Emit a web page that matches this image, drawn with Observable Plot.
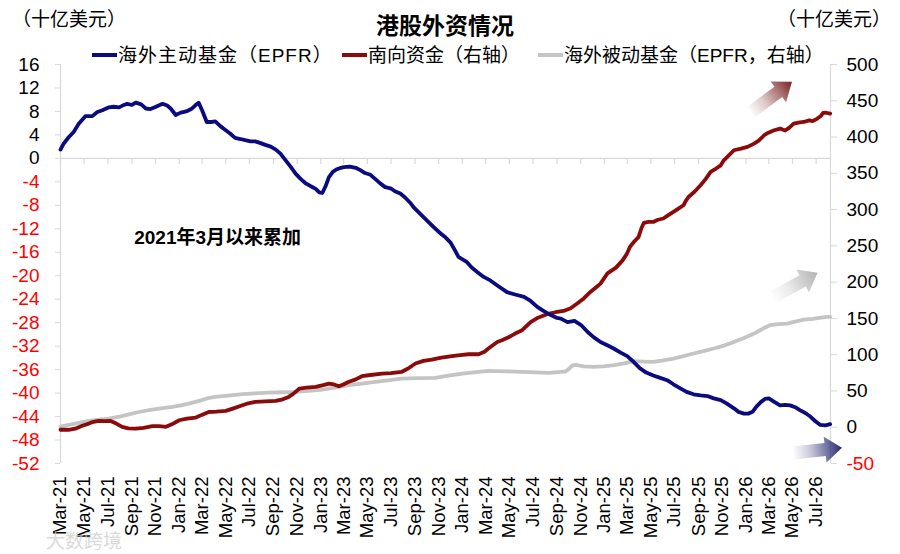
<!DOCTYPE html>
<html><head><meta charset="utf-8">
<script src="https://cdn.jsdelivr.net/npm/d3@7"></script>
<script src="https://cdn.jsdelivr.net/npm/@observablehq/plot@0.6"></script>
<style>
body{margin:0;background:#fff;font-family:"Liberation Sans",Arial,"Noto Sans CJK SC",sans-serif;color:#000}
#wrap{position:relative;width:900px;height:554px;overflow:hidden;background:#fff}
.hd{position:absolute;white-space:nowrap;line-height:1}
.sw{display:inline-block;width:25px;height:3.5px;vertical-align:middle;margin-right:1px;position:relative;top:-1px}
#chart{position:absolute;left:0;top:40px}
</style></head><body><div id="wrap"><div id="chart"></div></div>
<script>
// ---------- data ----------
const titleText = "港股外资情况";
const unitText = "（十亿美元）";
const noteText = "2021年3月以来累加";
const watermarkText = "大数跨境";
const seriesNames = ["海外主动基金（EPFR）", "南向资金（右轴）", "海外被动基金（EPFR，右轴）"];
const seriesColors = ["#0b0b80", "#8b0a0a", "#c4c4c4"];
const leftTicks = [16,12,8,4,0,-4,-8,-12,-16,-20,-24,-28,-32,-36,-40,-44,-48,-52];
const rightTicks = [500,450,400,350,300,250,200,150,100,50,0,-50];

// 海外主动基金 (left axis, 十亿美元)
const activeFund = [
["2021-03-01",1.5],["2021-03-09",2.5],["2021-03-22",3.6],["2021-04-04",4.5],["2021-04-17",5.9],["2021-05-04",7.2],
["2021-05-22",7.2],["2021-06-04",7.9],["2021-06-17",8.2],["2021-07-04",8.7],["2021-07-16",8.8],["2021-07-30",8.7],
["2021-08-08",9.0],["2021-08-20",9.3],["2021-09-01",9.1],["2021-09-11",9.5],["2021-09-25",9.2],["2021-10-07",8.5],
["2021-10-19",8.4],["2021-11-02",8.8],["2021-11-19",9.3],["2021-12-01",9.0],["2021-12-10",8.5],["2021-12-23",7.4],
["2022-01-05",7.8],["2022-01-19",8.0],["2022-02-01",8.4],["2022-02-11",9.0],["2022-02-20",9.5],["2022-03-01",8.2],
["2022-03-13",6.2],["2022-03-25",6.2],["2022-04-04",6.3],["2022-04-17",5.5],["2022-05-01",4.8],["2022-05-13",4.2],
["2022-05-25",3.5],["2022-06-08",3.3],["2022-06-20",3.1],["2022-07-04",2.9],["2022-07-16",2.9],["2022-07-30",2.6],
["2022-08-11",2.3],["2022-08-25",2.0],["2022-09-07",1.5],["2022-09-19",0.8],["2022-10-02",-0.3],["2022-10-16",-1.5],
["2022-10-28",-2.6],["2022-11-10",-3.5],["2022-11-22",-4.2],["2022-12-05",-4.7],["2022-12-19",-5.2],["2022-12-28",-5.8],
["2023-01-05",-5.9],["2023-01-13",-4.8],["2023-01-22",-3.2],["2023-02-01",-2.3],["2023-02-10",-1.9],["2023-02-22",-1.6],
["2023-03-01",-1.5],["2023-03-17",-1.4],["2023-04-01",-1.6],["2023-04-13",-2.0],["2023-04-25",-2.5],["2023-05-09",-2.8],
["2023-05-21",-3.5],["2023-06-04",-4.3],["2023-06-16",-4.9],["2023-06-30",-5.1],["2023-07-11",-5.6],["2023-07-25",-6.0],
["2023-08-07",-6.7],["2023-08-20",-7.6],["2023-08-28",-8.3],["2023-09-15",-9.5],["2023-10-02",-10.6],["2023-10-19",-11.7],
["2023-11-06",-12.8],["2023-11-19",-13.5],["2023-12-01",-14.3],["2023-12-14",-15.8],["2023-12-22",-16.8],["2024-01-13",-17.7],
["2024-01-25",-18.6],["2024-02-09",-19.4],["2024-02-25",-20.2],["2024-03-13",-20.8],["2024-04-01",-21.7],["2024-04-25",-22.8],
["2024-05-16",-23.2],["2024-06-08",-23.6],["2024-06-25",-24.3],["2024-07-12",-25.3],["2024-07-28",-26.0],["2024-08-16",-26.7],
["2024-09-01",-27.2],["2024-09-11",-27.3],["2024-09-28",-27.9],["2024-10-16",-27.7],["2024-11-02",-28.4],["2024-11-19",-29.6],
["2024-12-05",-30.5],["2024-12-22",-31.3],["2025-01-10",-31.9],["2025-01-25",-32.4],["2025-02-12",-33.1],["2025-03-01",-33.7],
["2025-03-16",-34.6],["2025-04-03",-35.8],["2025-04-19",-36.5],["2025-05-07",-37.0],["2025-05-25",-37.4],["2025-06-12",-37.8],
["2025-06-28",-38.5],["2025-07-16",-39.2],["2025-08-01",-39.8],["2025-08-19",-40.2],["2025-09-06",-40.4],["2025-09-24",-40.5],
["2025-10-10",-40.9],["2025-10-28",-41.2],["2025-11-13",-41.8],["2025-12-01",-42.6],["2025-12-13",-43.2],["2025-12-27",-43.5],
["2026-01-07",-43.5],["2026-01-18",-43.2],["2026-01-28",-42.3],["2026-02-09",-41.5],["2026-02-19",-41.0],["2026-03-01",-40.9],
["2026-03-13",-41.4],["2026-03-30",-42.1],["2026-04-12",-42.0],["2026-04-25",-42.1],["2026-05-08",-42.4],["2026-05-20",-42.9],
["2026-06-03",-43.4],["2026-06-16",-44.0],["2026-06-29",-44.8],["2026-07-11",-45.4],["2026-07-25",-45.5],["2026-08-06",-45.3]
];

// 南向资金 (right axis)
const southbound = [
["2021-03-01",-3.5],["2021-03-22",-3.5],["2021-04-08",-2],["2021-04-26",2],["2021-05-13",5],["2021-05-25",7.5],
["2021-06-08",8.7],["2021-06-22",8.5],["2021-07-08",8.7],["2021-07-23",5],["2021-08-07",0.5],["2021-08-23",-1.5],
["2021-09-11",-2],["2021-10-01",-1],["2021-10-24",1.4],["2021-11-10",1.5],["2021-11-28",0.5],["2021-12-13",4],
["2022-01-01",9.6],["2022-01-21",12],["2022-02-13",13.3],["2022-02-28",17],["2022-03-18",21],["2022-04-07",21.5],
["2022-05-01",22.5],["2022-05-21",26],["2022-06-13",30.3],["2022-06-28",33],["2022-07-16",34.9],["2022-08-11",35.5],
["2022-09-07",36.3],["2022-09-25",38.5],["2022-10-10",41.8],["2022-10-22",46],["2022-11-07",53.3],["2022-11-25",54.5],
["2022-12-19",55.6],["2023-01-07",58],["2023-01-22",60.2],["2023-02-04",59],["2023-02-17",56.5],["2023-02-28",59],
["2023-03-13",62.4],["2023-04-01",66],["2023-04-17",70.3],["2023-05-09",72],["2023-06-08",74],["2023-07-01",74.5],
["2023-07-28",76.2],["2023-08-14",81],["2023-09-02",87.8],["2023-09-23",91.5],["2023-10-14",93.3],["2023-11-08",96],
["2023-12-05",97.9],["2023-12-26",99.5],["2024-01-17",100.6],["2024-02-12",100.6],["2024-02-27",104],["2024-03-08",108.5],
["2024-03-31",117.6],["2024-04-12",119.9],["2024-04-29",124],["2024-05-16",129.1],["2024-06-03",133.7],["2024-06-25",145],
["2024-07-14",151],["2024-08-06",155.8],["2024-08-28",158.5],["2024-09-18",160.3],["2024-10-06",164],["2024-10-23",170.5],
["2024-11-09",177.5],["2024-11-26",186.5],["2024-12-11",193],["2024-12-22",198],["2025-01-09",212],["2025-01-31",220],
["2025-02-17",230],["2025-02-28",239],["2025-03-08",248.5],["2025-03-19",256],["2025-03-30",262],["2025-04-07",275],
["2025-04-13",281.6],["2025-04-25",283],["2025-05-07",283],["2025-05-19",286],["2025-06-02",287.7],["2025-06-14",292],
["2025-06-28",296.8],["2025-07-10",301],["2025-07-24",306],["2025-07-30",312],["2025-08-06",317.4],["2025-08-22",325],
["2025-09-06",333.6],["2025-09-19",342],["2025-10-02",352],["2025-10-16",356.6],["2025-10-28",361],["2025-11-05",368],
["2025-11-14",372.6],["2025-12-01",381.8],["2025-12-19",384],["2026-01-05",386.4],["2026-01-22",391],["2026-02-03",395],
["2026-02-17",402.5],["2026-02-28",406],["2026-03-13",409],["2026-03-30",411.7],["2026-04-12",409],["2026-04-23",413],
["2026-05-04",418.6],["2026-05-16",420],["2026-05-30",420.8],["2026-06-13",423],["2026-06-22",422],["2026-07-04",425.5],
["2026-07-13",429],["2026-07-19",433.2],["2026-07-27",433.5],["2026-08-06",432.4]
];

// 海外被动基金 (right axis)
const passiveFund = [
["2021-03-01",1],["2021-04-08",5],["2021-05-13",8.7],["2021-06-08",10.5],["2021-07-04",12],["2021-08-03",15],
["2021-08-27",18],["2021-09-19",21],["2021-10-19",24],["2021-11-15",26],["2021-12-14",28],["2022-01-05",30],
["2022-01-26",32.6],["2022-02-26",37],["2022-03-16",40],["2022-04-04",41.8],["2022-05-07",43.5],["2022-06-13",45.5],
["2022-07-16",46.8],["2022-08-20",47.8],["2022-09-25",48.2],["2022-10-28",48.7],["2022-12-01",50],["2023-01-05",52],
["2023-02-10",55],["2023-03-13",57.9],["2023-04-17",60],["2023-05-21",62.4],["2023-06-23",64.5],["2023-07-28",67.1],
["2023-09-09",67.8],["2023-10-23",68],["2023-11-26",71],["2024-01-01",74],["2024-02-05",76],["2024-03-08",77.6],
["2024-04-22",77],["2024-06-03",76.2],["2024-07-07",75.5],["2024-08-11",74.8],["2024-09-11",76.2],["2024-09-23",76.8],
["2024-10-01",80],["2024-10-10",85],["2024-10-19",86],["2024-11-09",84],["2024-12-05",83.1],["2024-12-29",84],
["2025-01-26",85.5],["2025-02-21",88],["2025-03-17",91],["2025-04-11",90.5],["2025-05-07",90],["2025-06-02",92],
["2025-06-28",94.7],["2025-07-24",98],["2025-08-19",101.6],["2025-09-14",105],["2025-10-10",108.5],["2025-11-05",112.5],
["2025-12-01",117.6],["2025-12-27",123],["2026-01-22",129.1],["2026-02-14",136],["2026-03-04",140.6],["2026-03-25",142],
["2026-04-17",142.9],["2026-05-08",145.5],["2026-05-30",148.4],["2026-06-22",149.5],["2026-07-13",151],["2026-07-30",152],
["2026-08-06",152]
];

// decorative trend arrows: [date, value] tail and head, axis used
const arrows = [
  {from:["2026-01-13",432.8], to:["2026-05-01",475.5], axis:"right", color:"#7a2424"},
  {from:["2026-03-10",177.8], to:["2026-07-06",212.3], axis:"right", color:"#b3b3b3"},
  {from:["2026-05-03",-50.3], to:["2026-09-07",-49.4], axis:"left", color:"#2a2a72"}
];

const xDomain = ["2021-03-01", "2026-08-07"];
const notePos = ["2022-04-10", -13.6];

// ---------- helpers ----------
const toLeft = r => (r + 50) * 68 / 550 - 52;
const fromLeft = l => (l + 52) * 550 / 68 - 50;
const parse = s => new Date(s + "T00:00:00Z");
const xTicks = d3.utcMonth.every(2).range(parse("2021-03-01"), parse("2026-08-02"));
const fmt = d3.utcFormat("%b-%y");
const axisGray = "#d9d9d9";

const active = activeFund.map(([d, v]) => ({date: parse(d), y: v}));
const south = southbound.map(([d, v]) => ({date: parse(d), y: toLeft(v)}));
const passive = passiveFund.map(([d, v]) => ({date: parse(d), y: toLeft(v)}));

// ---------- header (HTML) ----------
const wrap = document.getElementById("wrap");
function addHd(text, css) {
  const el = document.createElement("div");
  el.className = "hd"; el.textContent = text;
  Object.assign(el.style, css); wrap.appendChild(el); return el;
}
addHd(unitText, {left:"12px", top:"8px", fontSize:"19px", fontFamily:"'Noto Sans CJK SC',sans-serif"});
addHd(unitText, {left:"777px", top:"8px", fontSize:"19px", fontFamily:"'Noto Sans CJK SC',sans-serif"});
addHd(titleText, {left:"445px", top:"13px", fontSize:"23px", fontWeight:"bold", transform:"translateX(-50%)", fontFamily:"'Noto Sans CJK SC',sans-serif"});
const legendLeft = [92, 342, 538];
seriesNames.forEach((name, i) => {
  const el = document.createElement("div");
  el.className = "hd";
  Object.assign(el.style, {left: legendLeft[i] + "px", top: "45px", fontSize: "19px"});
  const sw = document.createElement("span"); sw.className = "sw"; sw.style.background = seriesColors[i];
  const tx = document.createElement("span"); tx.textContent = name; tx.style.verticalAlign = "middle";
  if (i === 0) tx.style.letterSpacing = "1px";
  el.appendChild(sw); el.appendChild(tx); wrap.appendChild(el);
});

// ---------- plot ----------
const chart = Plot.plot({
  width: 900, height: 514,
  marginTop: 24, marginLeft: 60, marginRight: 70, marginBottom: 91,
  style: {fontFamily: "'Liberation Sans', Arial, 'Noto Sans CJK SC', sans-serif", fontSize: "19px", color: "#000", background: "transparent"},
  x: {type: "utc", domain: xDomain.map(parse)},
  y: {domain: [-52, 16]},
  marks: [
    Plot.ruleY([0], {stroke: axisGray, strokeWidth: 1.2}),
    Plot.ruleX([parse(xDomain[0])], {y1: -52, y2: 16, stroke: axisGray, strokeWidth: 1.2}),
    Plot.ruleX([parse(xDomain[1])], {y1: -52, y2: 16, stroke: axisGray, strokeWidth: 1.2}),
    Plot.ruleX(xTicks, {x: d => d, y1: 0, y2: -6 / 5.87, stroke: axisGray, strokeWidth: 1.2}),
    Plot.axisY(leftTicks, {anchor: "left", tickSize: 5, tickFormat: () => "", stroke: axisGray, label: null}),
    Plot.axisY(leftTicks.filter(d => d >= 0), {anchor: "left", tickSize: 0, tickPadding: 21, tickFormat: d => String(d), fill: "#000", label: null}),
    Plot.axisY(leftTicks.filter(d => d < 0), {anchor: "left", tickSize: 0, tickPadding: 21, tickFormat: d => String(d), fill: "#ff0000", label: null}),
    Plot.axisY(rightTicks.map(toLeft), {anchor: "right", tickSize: 6, tickFormat: () => "", stroke: axisGray, label: null}),
    Plot.axisY(rightTicks.filter(d => d >= 0).map(toLeft), {anchor: "right", tickSize: 0, tickPadding: 16, tickFormat: d => String(Math.round(fromLeft(d))), fill: "#000", label: null}),
    Plot.axisY(rightTicks.filter(d => d < 0).map(toLeft), {anchor: "right", tickSize: 0, tickPadding: 16, tickFormat: d => String(Math.round(fromLeft(d))), fill: "#ff0000", label: null}),
    Plot.axisX(xTicks, {anchor: "bottom", tickSize: 0, tickPadding: 13, tickRotate: -90, tickFormat: fmt, fontSize: 18.5, label: null}),
    Plot.line(passive, {x: "date", y: "y", stroke: seriesColors[2], strokeWidth: 3.8}),
    Plot.line(south, {x: "date", y: "y", stroke: seriesColors[1], strokeWidth: 3.8}),
    Plot.line(active, {x: "date", y: "y", stroke: seriesColors[0], strokeWidth: 3.8}),
    Plot.text([noteText], {x: parse(notePos[0]), y: notePos[1], text: d => d, fontSize: 19, fontWeight: "bold", fill: "#000"})
  ]
});
document.getElementById("chart").appendChild(chart);

// ---------- gradient arrows ----------
const sx = chart.scale("x"), sy = chart.scale("y");
const X = d3.scaleUtc(sx.domain, sx.range), Y = d3.scaleLinear(sy.domain, sy.range);
const svg = d3.select(chart);
const defs = svg.append("defs");
arrows.forEach((a, i) => {
  const yv = v => Y(a.axis === "right" ? toLeft(v) : v);
  const x0 = X(parse(a.from[0])), y0 = yv(a.from[1]);
  const x1 = X(parse(a.to[0])), y1 = yv(a.to[1]);
  const g = defs.append("linearGradient").attr("id", "arrowGrad" + i).attr("gradientUnits", "userSpaceOnUse")
    .attr("x1", x0).attr("y1", y0).attr("x2", x1).attr("y2", y1);
  g.append("stop").attr("offset", 0).attr("stop-color", a.color).attr("stop-opacity", 0);
  g.append("stop").attr("offset", 0.35).attr("stop-color", a.color).attr("stop-opacity", 0.25);
  g.append("stop").attr("offset", 1).attr("stop-color", a.color).attr("stop-opacity", 1);
  const dx = x1 - x0, dy = y1 - y0, L = Math.hypot(dx, dy);
  const ux = dx / L, uy = dy / L, nx = -uy, ny = ux;
  const w = 6.5, hw = 13, hl = 17;
  const bx = x1 - ux * hl, by = y1 - uy * hl;
  const pts = [
    [x0 + nx * w, y0 + ny * w], [bx + nx * w, by + ny * w], [bx + nx * hw, by + ny * hw], [x1, y1],
    [bx - nx * hw, by - ny * hw], [bx - nx * w, by - ny * w], [x0 - nx * w, y0 - ny * w]
  ];
  svg.append("polygon").attr("points", pts.map(p => p.join(",")).join(" ")).attr("fill", `url(#arrowGrad${i})`);
});

// faint watermark
addHd(watermarkText, {left:"46px", top:"530px", fontSize:"19px", color:"rgba(205,205,205,0.75)", fontFamily:"'Noto Sans CJK SC',sans-serif"});
</script></body></html>
